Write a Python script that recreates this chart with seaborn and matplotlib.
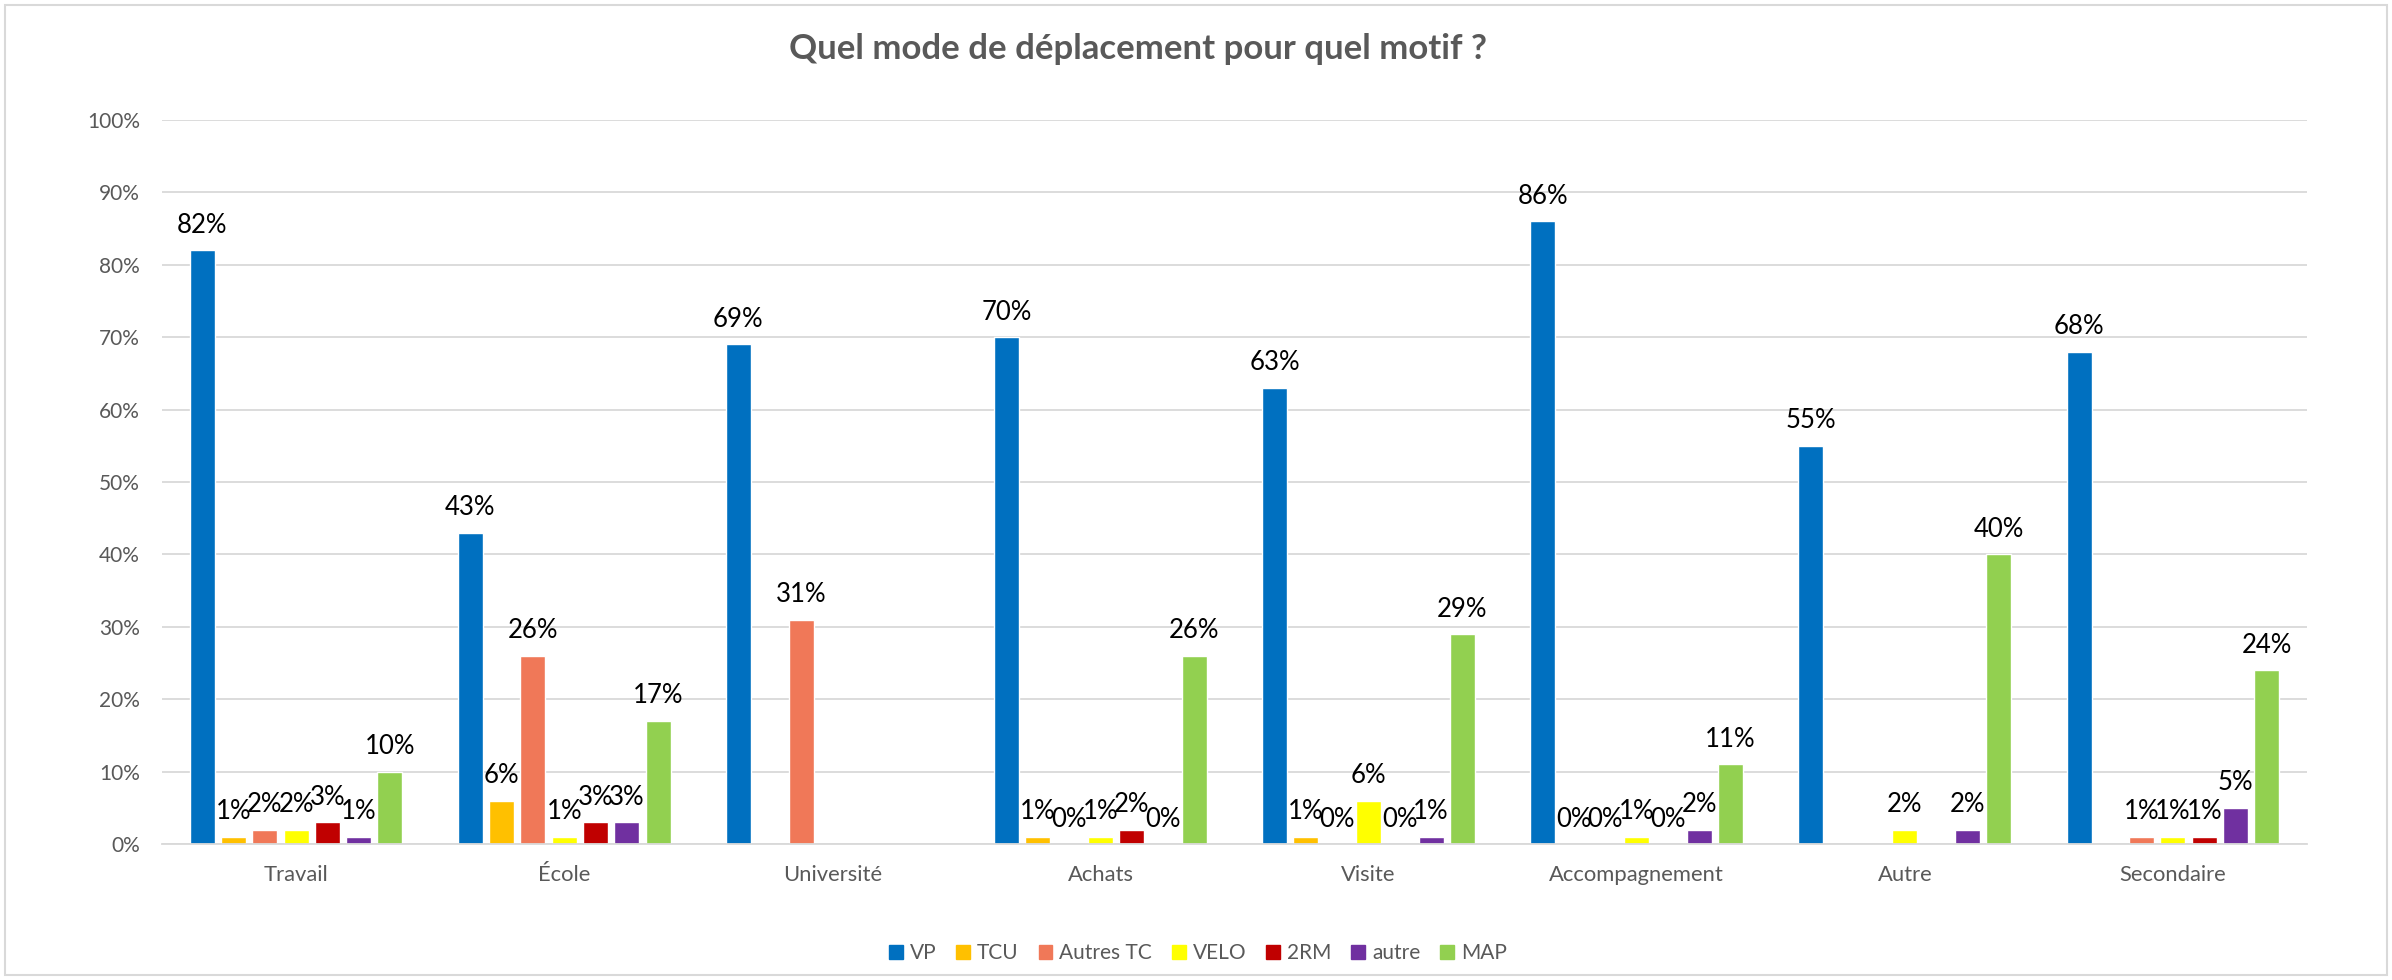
import numpy as np
import pandas as pd
import matplotlib
matplotlib.use("Agg")
import matplotlib.pyplot as plt
from matplotlib.patches import Rectangle
import seaborn as sns

# Trip purposes (x categories) and travel modes (series)
motifs = ["Travail", "École", "Université", "Achats", "Visite",
          "Accompagnement", "Autre", "Secondaire"]
modes = ["VP", "TCU", "Autres TC", "VELO", "2RM", "autre", "MAP"]

# Share (%) of each mode per purpose; NaN = no value reported
vp        = [82, 43, 69, 70, 63, 86, 55, 68]
tcu       = [1, 6, np.nan, 1, 1, 0, np.nan, np.nan]
autres_tc = [2, 26, 31, 0, 0, 0, np.nan, 1]
velo      = [2, 1, np.nan, 1, 6, 1, 2, 1]
deux_rm   = [3, 3, np.nan, 2, 0, 0, np.nan, 1]
autre     = [1, 3, np.nan, 0, 1, 2, 2, 5]
map_      = [10, 17, np.nan, 26, 29, 11, 40, 24]

series = [vp, tcu, autres_tc, velo, deux_rm, autre, map_]
colors = ["#0070C0", "#FFC000", "#F07858", "#FFFF00", "#C00000", "#7030A0", "#92D050"]

rows = []
for mode, vals in zip(modes, series):
    for motif, v in zip(motifs, vals):
        rows.append({"motif": motif, "mode": mode, "part": v})
df = pd.DataFrame(rows)

sns.set_style("white")
plt.rcParams["font.family"] = ["Lato", "DejaVu Sans"]

W, H = 2392, 980
fig = plt.figure(figsize=(W / 100, H / 100), dpi=100)
ax = fig.add_axes([162 / W, 1 - 844 / H, (2307 - 162) / W, (844 - 120) / H])

sns.barplot(data=df, x="motif", y="part", hue="mode", order=motifs,
            hue_order=modes, palette=colors, width=0.817, gap=0.2,
            saturation=1, ax=ax, legend=False, errorbar=None)

# value labels above every drawn bar
for cont in ax.containers:
    for bar in cont:
        if bar is None:
            continue
        h = bar.get_height()
        if np.isnan(h):
            continue
        ax.annotate(f"{h:.0f}%", (bar.get_x() + bar.get_width() / 2, h),
                    xytext=(0, 9), textcoords="offset points",
                    ha="center", va="bottom", fontsize=18.5, color="black")

ax.set_ylim(0, 100)
ax.set_xlim(-0.5, len(motifs) - 0.5)
ax.set_yticks(range(0, 101, 10))
ax.set_yticklabels([f"{t}%" for t in range(0, 101, 10)])
ax.tick_params(axis="y", labelsize=15, labelcolor="#595959", length=0, pad=16)
ax.tick_params(axis="x", labelsize=15.8, labelcolor="#595959", length=0, pad=15)
ax.set_xlabel("")
ax.set_ylabel("")
ax.yaxis.grid(True, color="#D9D9D9", linewidth=1.3)
ax.set_axisbelow(True)
for s in ["top", "right", "left"]:
    ax.spines[s].set_visible(False)
ax.spines["bottom"].set_color("#D9D9D9")
ax.spines["bottom"].set_linewidth(1.3)

fig.text(1138 / W, 1 - 49 / H, "Quel mode de déplacement pour quel motif ?",
         ha="center", va="center", fontsize=25, fontweight="bold", color="#595959")

handles = [Rectangle((0, 0), 1, 1, color=c) for c in colors]
fig.legend(handles, modes, loc="center", bbox_to_anchor=(1198 / W, 1 - 953 / H),
           ncol=7, frameon=False, fontsize=15, labelcolor="#595959",
           handlelength=0.65, handleheight=0.65, handletextpad=0.35, columnspacing=0.95)

# outer chart border
fig.add_artist(Rectangle((5 / W, 5 / H), 1 - 10 / W, 1 - 10 / H,
                         transform=fig.transFigure, fill=False,
                         edgecolor="#D9D9D9", linewidth=1.5))

fig.savefig("out.png", dpi=100)
